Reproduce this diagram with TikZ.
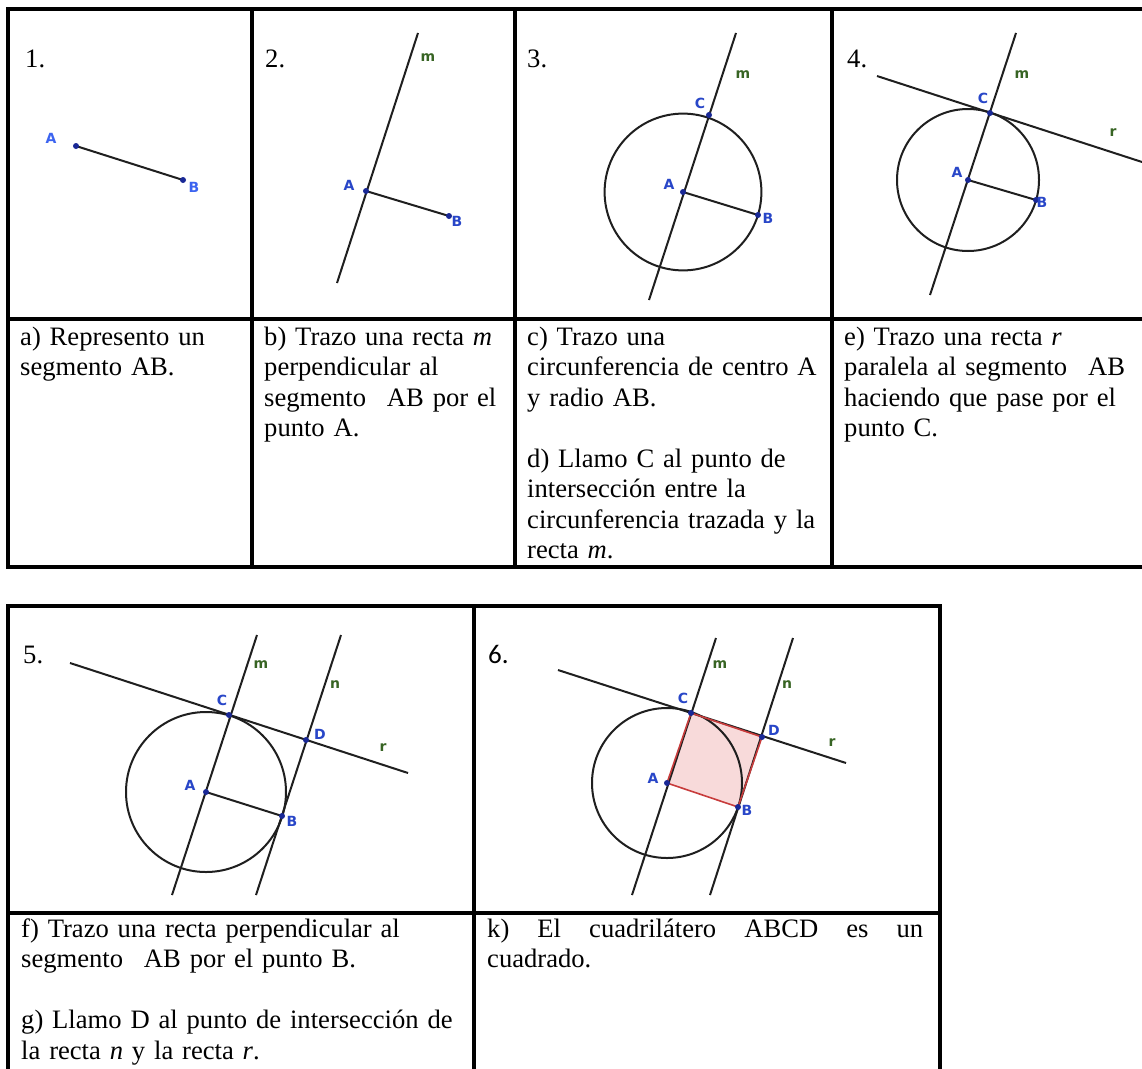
\documentclass[tikz,border=0pt]{standalone}
\usepackage{fontspec}
\setmainfont{Liberation Serif}
\newfontfamily\geofont{DejaVu Sans}
\newfontfamily\calfont{Carlito}
\definecolor{labblue}{RGB}{40,70,200}
\definecolor{labblueL}{RGB}{60,100,240}
\definecolor{ptblue}{RGB}{25,40,150}
\definecolor{labgreen}{RGB}{55,100,35}
\definecolor{sqred}{RGB}{200,60,60}
\definecolor{sqfill}{RGB}{248,218,218}
\tikzset{
  tab/.style={line width=3.3pt, line cap=rect},
  gl/.style={line width=2pt, draw=black!88},
  pt/.style={circle, fill=ptblue, inner sep=0pt, minimum size=6pt},
  lab/.style={font=\geofont\bfseries\fontsize{14pt}{14pt}\selectfont, text=labblue, inner sep=0pt},
  labL/.style={lab, text=labblueL},
  lname/.style={font=\geofont\bfseries\fontsize{14pt}{14pt}\selectfont, text=labgreen, inner sep=0pt},
  txt/.style={anchor=base west, inner sep=0pt, text width=#1, align=left,
    font=\fontsize{26.6pt}{30.5pt}\selectfont},
  num/.style={anchor=base west, inner sep=0pt, font=\fontsize{26.6pt}{30.5pt}\selectfont}
}
\begin{document}
\begin{tikzpicture}[x=1pt,y=-1pt]
\useasboundingbox (0,0) rectangle (1142,1068);
\fill[white] (0,0) rectangle (1142,1068);

% ---------- table 1 ----------
\draw[tab] (8,9) -- (1150,9);
\draw[tab] (8,319) -- (1150,319);
\draw[tab] (8,567) -- (1150,567);
\foreach \x in {8,252,515,832} \draw[tab] (\x,9) -- (\x,567);

% ---------- table 2 ----------
\draw[tab] (8,606) -- (940,606);
\draw[tab] (8,913) -- (940,913);
\foreach \x in {8,474,940} \draw[tab] (\x,606) -- (\x,1075);

% ---------- numbers ----------
\node[num] (n1) at (25,67) {1.};
\node[num] (n2) at (265,67) {2.};
\node[num] (n3) at (527,67) {3.};
\node[num] (n4) at (847,67) {4.};
\node[num] (n5) at (23,663) {5.};
\node[num, font=\calfont\fontsize{27pt}{30pt}\selectfont] (n6) at (488,663) {6.};

% ---------- texts row 1 ----------
\node[txt=225pt] (ta) at (20,345) {a) Represento un\\segmento AB.};
\node[txt=250pt] (tb) at (264,345) {b) Trazo una recta \textit{m}\\perpendicular al\\segmento\hspace{0.45em} AB por el\\punto A.};
\node[txt=300pt] (tc) at (527,345) {c) Trazo una\\circunferencia de centro A\\y radio AB.\\[30.5pt]d) Llamo C al punto de\\intersección entre la\\circunferencia trazada y la\\recta \textit{m}.};
\node[txt=300pt] (te) at (844,345) {e) Trazo una recta \textit{r}\\paralela al segmento\hspace{0.45em} AB\\haciendo que pase por el\\punto C.};

% ---------- texts row 2 ----------
\node[txt=440pt] (tf) at (21,937) {f) Trazo una recta perpendicular al\\segmento\hspace{0.45em} AB por el punto B.\\[30.5pt]\makebox[436pt][s]{g) Llamo D al punto de intersección de}\\la recta \textit{n} y la recta \textit{r}.};
\node[txt=440pt] (tk) at (487,937) {\makebox[436pt]{k)\hfill El\hfill cuadrilátero\hfill ABCD\hfill es\hfill un}\\cuadrado.};

% ---------- panel 1 ----------
\coordinate (a1) at (76,146);
\coordinate (b1) at (183,180);
\draw[gl] (a1) -- (b1);
\node[pt] (da1) at (a1) {};
\node[pt] (db1) at (b1) {};
\node[labL] (la1) at (51,138) {A};
\node[labL] (lb1) at (194,187) {B};

% ---------- panel 2 ----------
\coordinate (a2) at (366,191);
\coordinate (b2) at (449,216);
\coordinate (m2t) at (418,33);
\coordinate (m2b) at (337,283);
\draw[gl] (m2t) -- (m2b);
\draw[gl] (a2) -- (b2);
\node[pt] (da2) at (a2) {};
\node[pt] (db2) at (b2) {};
\node[lab] (la2) at (349,185) {A};
\node[lab] (lb2) at (457,221) {B};
\node[lname] (lm2) at (428,58) {m};

% ---------- panel 3 ----------
\coordinate (a3) at (683,192);
\coordinate (b3) at (758,215);
\coordinate (c3) at (709,115);
\coordinate (m3t) at (736,33);
\coordinate (m3b) at (649,300);
\draw[gl] (a3) circle[radius=78.4];
\draw[gl] (m3t) -- (m3b);
\draw[gl] (a3) -- (b3);
\node[pt] (da3) at (a3) {};
\node[pt] (db3) at (b3) {};
\node[pt] (dc3) at (c3) {};
\node[lab] (la3) at (669,184) {A};
\node[lab] (lb3) at (768,218) {B};
\node[lab] (lc3) at (700,103) {C};
\node[lname] (lm3) at (743,75) {m};

% ---------- panel 4 ----------
\coordinate (a4) at (968,180);
\coordinate (b4) at (1036,200);
\coordinate (c4) at (990,113);
\coordinate (m4t) at (1016,33);
\coordinate (m4b) at (930,295);
\coordinate (r4l) at (877,76);
\coordinate (r4r) at (1142,162);
\draw[gl] (a4) circle[radius=71];
\draw[gl] (m4t) -- (m4b);
\draw[gl] (r4l) -- (r4r);
\draw[gl] (a4) -- (b4);
\node[pt] (da4) at (a4) {};
\node[pt] (db4) at (b4) {};
\node[pt] (dc4) at (c4) {};
\node[lab] (la4) at (957,172) {A};
\node[lab] (lb4) at (1042,202) {B};
\node[lab] (lc4) at (983,98) {C};
\node[lname] (lm4) at (1022,75) {m};
\node[lname] (lr4) at (1113,133) {r};

% ---------- panel 5 ----------
\coordinate (a5) at (206,792);
\coordinate (b5) at (282,816);
\coordinate (c5) at (229,715);
\coordinate (d5) at (306,740);
\coordinate (m5t) at (257,635);
\coordinate (m5b) at (172,895);
\coordinate (n5t) at (341,635);
\coordinate (n5b) at (256,895);
\coordinate (r5l) at (70,663);
\coordinate (r5r) at (408,773);
\draw[gl] (a5) circle[radius=80];
\draw[gl] (m5t) -- (m5b);
\draw[gl] (n5t) -- (n5b);
\draw[gl] (r5l) -- (r5r);
\draw[gl] (a5) -- (b5);
\foreach \p in {a5,b5,c5,d5} \node[pt] (dot-\p) at (\p) {};
\node[lab] (la5) at (190,785) {A};
\node[lab] (lb5) at (292,821) {B};
\node[lab] (lc5) at (222,700) {C};
\node[lab] (ld5) at (320,734) {D};
\node[lname] (lm5) at (261,665) {m};
\node[lname] (ln5) at (335,685) {n};
\node[lname] (lr5) at (383,748) {r};

% ---------- panel 6 ----------
\coordinate (a6) at (667,783);
\coordinate (b6) at (738,807);
\coordinate (c6) at (691,713);
\coordinate (d6) at (762,737);
\coordinate (m6t) at (716,638);
\coordinate (m6b) at (632,895);
\coordinate (n6t) at (793,638);
\coordinate (n6b) at (710,895);
\coordinate (r6l) at (558,670);
\coordinate (r6r) at (846,763);
\fill[sqfill] (a6) -- (c6) -- (d6) -- (b6) -- cycle;
\draw[gl] (a6) circle[radius=75];
\draw[gl] (m6t) -- (m6b);
\draw[gl] (n6t) -- (n6b);
\draw[gl] (r6l) -- (r6r);
\draw[sqred, line width=1.6pt, line join=round] (a6) -- (c6) -- (d6) -- (b6) -- cycle;
\foreach \p in {a6,b6,c6,d6} \node[pt] (dot-\p) at (\p) {};
\node[lab] (la6) at (653,778) {A};
\node[lab] (lb6) at (747,810) {B};
\node[lab] (lc6) at (683,698) {C};
\node[lab] (ld6) at (774,730) {D};
\node[lname] (lm6) at (720,665) {m};
\node[lname] (ln6) at (787,685) {n};
\node[lname] (lr6) at (832,743) {r};
\end{tikzpicture}
\end{document}
